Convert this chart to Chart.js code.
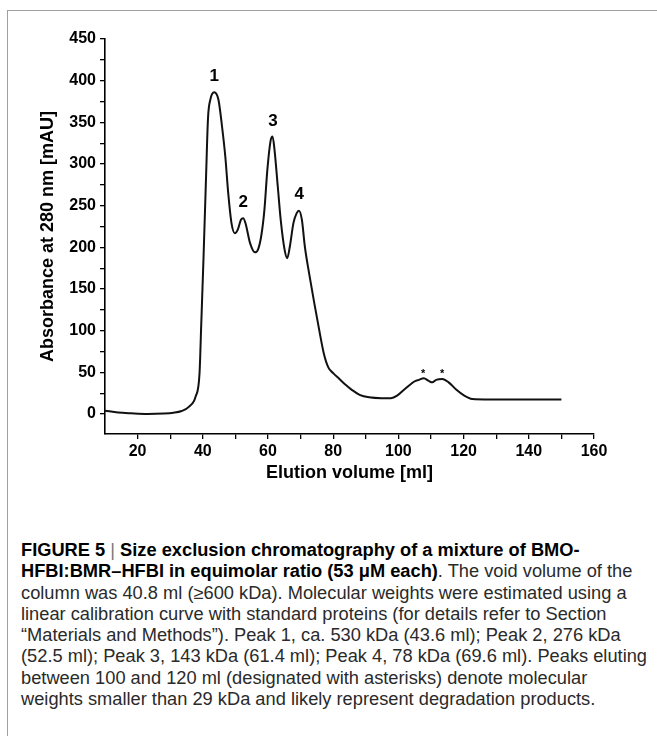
<!DOCTYPE html>
<html>
<head>
<meta charset="utf-8">
<script src="https://cdn.jsdelivr.net/npm/chart.js@4.4.1/dist/chart.umd.min.js"></script>
<style>
  html, body { margin:0; padding:0; background:#fff; }
  body { width:657px; height:736px; overflow:hidden; position:relative; }
  #frame { position:absolute; left:7px; top:10px; width:700px; height:800px;
           border-left:1.5px solid #a0a0a0; border-top:1.5px solid #a0a0a0; }
  #wrap { position:absolute; left:0; top:0; width:657px; height:490px; }
  #caption { position:absolute; left:21px; top:540px; font-family:"Liberation Sans",Arial,Helvetica,sans-serif;
             font-size:17.5px; line-height:21.3px; color:#2a2a2a; white-space:nowrap; transform-origin:0 0; }
  #caption div { display:block; width:max-content; }
  #caption b { color:#000; }
  #caption .bar { color:#777; font-weight:normal; }
</style>
</head>
<body>
<div id="frame"></div>
<div id="wrap"><canvas id="c" width="657" height="490"></canvas></div>
<div id="caption">
<div><b>FIGURE 5 </b><span class="bar">|</span><b> Size exclusion chromatography of a mixture of BMO-</b></div>
<div id="line2"><b>HFBI:BMR–HFBI in equimolar ratio (53 μM each)</b>. The void volume of the</div>
<div>column was 40.8 ml (≥600 kDa). Molecular weights were estimated using a</div>
<div>linear calibration curve with standard proteins (for details refer to Section</div>
<div>“Materials and Methods”). Peak 1, ca. 530 kDa (43.6 ml); Peak 2, 276 kDa</div>
<div id="line6">(52.5 ml); Peak 3, 143 kDa (61.4 ml); Peak 4, 78 kDa (69.6 ml). Peaks eluting</div>
<div>between 100 and 120 ml (designated with asterisks) denote molecular</div>
<div>weights smaller than 29 kDa and likely represent degradation products.</div>
</div>
<script>
// ---- data ----
const elutionVolume = [10, 14, 18, 23, 28, 31, 33.5, 35.8, 37.8, 39.0, 39.5, 40.2, 41.0, 41.6, 42.3, 43.5, 44.8, 45.9, 46.9, 47.8,
  48.8, 49.8, 50.7, 51.7, 52.4, 53.1, 54.5, 56.0, 56.9, 57.9, 58.9, 59.8, 60.8, 61.4, 62.0, 63.0, 63.9, 65.1, 65.9, 66.7,
  67.8, 68.8, 69.5, 70.4, 71.3, 72.6, 74.2, 75.7, 77.1, 78.5, 80.0, 81.9, 83.8, 85.7, 88.1, 91, 94.8, 97.7, 99.6, 102,
  104.9, 106.3, 107.8, 109.2, 110.4, 111.6, 113.5, 115.4, 117.8, 120.2, 122.6, 128, 140, 150];
const absorbance = [4, 1.8, 0.8, 0, 0.5, 1.5, 3.6, 8.8, 21, 49, 105, 185, 285, 355, 377, 386, 377, 345, 309, 265,
  229, 217, 221, 233, 235, 229, 205, 194, 197, 213, 245, 293, 328, 333, 317, 273, 233, 197, 187, 201,
  229, 241, 244, 233, 201, 169, 133, 101, 73, 56, 49, 42, 35, 29, 23, 20, 19, 19, 22, 30,
  39, 41, 43, 40, 38, 41, 42, 38, 29, 22, 18, 17.5, 17.5, 17.5];

const xMajorTicks = [20, 40, 60, 80, 100, 120, 140, 160];
const xMinorTicks = [30, 50, 70, 90, 110, 130, 150];
const yMajorTicks = [0, 50, 100, 150, 200, 250, 300, 350, 400, 450];
const yMinorTicks = [25, 75, 125, 175, 225, 275, 325, 375, 425];

const peakLabels = ['1', '2', '3', '4'];
const peakLabelX = [43.5, 52.4, 61.5, 69.6];
const peakLabelY = [405, 254, 351, 264];
const asteriskX = [107.6, 113.4];
const asteriskY = [51, 51];

// fit caption width to the reference (condensed look)
(function () {
  const cap = document.getElementById('caption');
  const w = Math.max(document.getElementById('line2').getBoundingClientRect().width,
                     document.getElementById('line6').getBoundingClientRect().width);
  cap.style.transform = 'scaleX(' + (626 / w) + ')';
})();

// ---- chart ----
const FONT = "'Liberation Sans', Arial, Helvetica, sans-serif";
const annotate = {
  id: 'annotate',
  afterDatasetsDraw(chart) {
    const {ctx, scales: {x, y}} = chart;
    ctx.save();
    ctx.fillStyle = '#000';
    ctx.textAlign = 'center';
    ctx.textBaseline = 'middle';
    ctx.font = 'bold 17px ' + FONT;
    peakLabels.forEach((t, i) => ctx.fillText(t, x.getPixelForValue(peakLabelX[i]), y.getPixelForValue(peakLabelY[i])));
    ctx.font = 'bold 11px ' + FONT;
    asteriskX.forEach((v, i) => ctx.fillText('*', x.getPixelForValue(v), y.getPixelForValue(asteriskY[i]) + 2));
    ctx.restore();
  }
};

const tickFont = {family: FONT, weight: 'bold', size: 16};
const titleFont = {family: FONT, weight: 'bold', size: 18};

new Chart(document.getElementById('c'), {
  type: 'line',
  data: {
    datasets: [{
      data: elutionVolume.map((v, i) => ({x: v, y: absorbance[i]})),
      borderColor: '#111',
      borderWidth: 2,
      pointRadius: 0,
      fill: false,
      cubicInterpolationMode: 'monotone'
    }]
  },
  options: {
    responsive: false,
    animation: false,
    devicePixelRatio: 1,
    layout: {padding: {top: 39, right: 63, left: 0, bottom: 0}},
    plugins: {legend: {display: false}, tooltip: {enabled: false}},
    scales: {
      x: {
        type: 'linear', min: 10, max: 160,
        afterBuildTicks: s => { s.ticks = xMajorTicks.concat(xMinorTicks).sort((a, b) => a - b).map(v => ({value: v})); },
        afterFit: s => { s.height = 56; },
        ticks: {autoSkip: false, maxRotation: 0, color: '#000', font: tickFont, padding: 3,
                callback: v => xMajorTicks.includes(v) ? String(v) : ''},
        grid: {drawOnChartArea: false, drawTicks: true, tickLength: 5, color: '#000', lineWidth: 1.3},
        border: {display: true, color: '#000', width: 1.6},
        title: {display: true, text: 'Elution volume [ml]', color: '#000', font: titleFont, padding: {top: 0, bottom: 6}}
      },
      y: {
        type: 'linear', min: -24, max: 450,
        afterBuildTicks: s => { s.ticks = yMajorTicks.concat(yMinorTicks).sort((a, b) => a - b).map(v => ({value: v})); },
        afterFit: s => { s.width = 105; },
        ticks: {autoSkip: false, color: '#000', font: tickFont, padding: 4,
                callback: v => yMajorTicks.includes(v) ? String(v) : ''},
        grid: {drawOnChartArea: false, drawTicks: true, tickLength: 5, color: '#000', lineWidth: 1.3},
        border: {display: true, color: '#000', width: 1.6},
        title: {display: true, text: 'Absorbance at 280 nm [mAU]', color: '#000', font: titleFont, padding: {top: 37, bottom: 0}}
      }
    }
  },
  plugins: [annotate]
});
</script>
</body>
</html>
